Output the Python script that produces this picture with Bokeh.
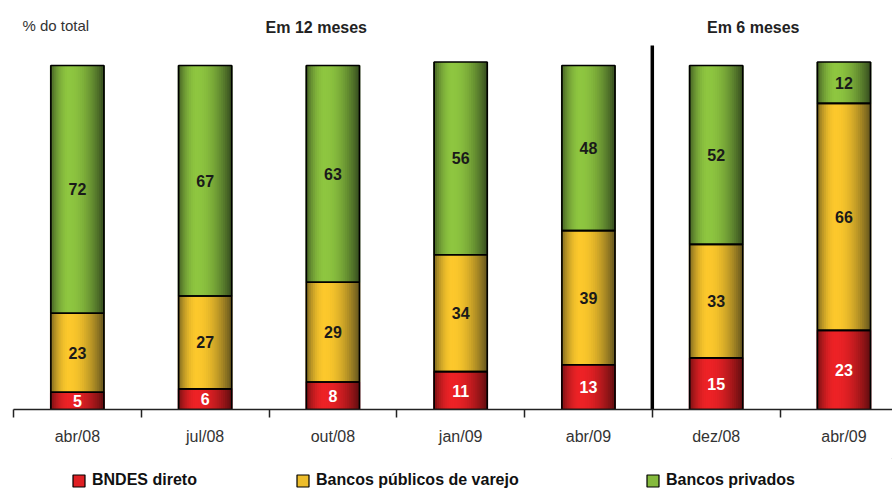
import numpy as np
from bokeh.plotting import figure
from bokeh.layouts import column
from bokeh.models import ColumnDataSource, FixedTicker, Legend, LegendItem, Range1d
from bokeh.core.properties import value
from bokeh.embed import file_html
from bokeh.resources import INLINE

# Share of credit by source (% of total)
periods = ["abr/08", "jul/08", "out/08", "jan/09", "abr/09", "dez/08", "abr/09"]
bndes = [5, 6, 8, 11, 13, 15, 23]
publicos = [23, 27, 29, 34, 39, 33, 66]
privados = [72, 67, 63, 56, 48, 52, 12]
series_names = ["BNDES direto", "Bancos públicos de varejo", "Bancos privados"]
group_titles = ["Em 12 meses", "Em 6 meses"]
unit_label = "% do total"

FONT = "Liberation Sans"
BAR_W = 0.415
N_STRIPS = 28

# (light, dark) colour pairs for the cylinder-like shading
palette = [
    ((237, 34, 38), (100, 14, 16)),     # red
    ((252, 200, 44), (104, 88, 30)),    # yellow
    ((142, 198, 64), (56, 80, 32)),     # green
]
label_colors = ["white", "#1a1a1a", "#1a1a1a"]


def shade(t):
    """Brightness profile across a bar: dark edges, highlight left of centre."""
    peak = 0.36
    if t < peak:
        return np.sin(0.5 * np.pi * t / peak) ** 0.8
    return np.cos(0.5 * np.pi * (t - peak) / (1 - peak)) ** 0.9


def mix(light, dark, f):
    c = [int(round(d + (l - d) * f)) for l, d in zip(light, dark)]
    return "#%02x%02x%02x" % tuple(c)


x_idx = np.arange(len(periods), dtype=float)
layers = [np.array(bndes, float), np.array(publicos, float), np.array(privados, float)]
bottoms = [np.zeros(len(periods))]
for arr in layers[:-1]:
    bottoms.append(bottoms[-1] + arr)
tops = [b + a for b, a in zip(bottoms, layers)]

p = figure(
    width=892, height=458, output_backend="svg", toolbar_location=None,
    x_range=Range1d(-0.5, 6.38), y_range=Range1d(0, 118.9),
    min_border_left=13, min_border_right=0, min_border_top=0, min_border_bottom=49,
    y_axis_location=None,
)
p.outline_line_color = None
p.xgrid.visible = False
p.ygrid.visible = False
p.background_fill_color = "white"
p.border_fill_color = "white"

# shaded strips for every segment (overlapping so no seams show)
strip_w = BAR_W / N_STRIPS
xs, bots, tps, cols = [], [], [], []
for k in range(3):
    light, dark = palette[k]
    for s in range(N_STRIPS):
        t = (s + 0.5) / N_STRIPS
        col = mix(light, dark, shade(t))
        off = -BAR_W / 2 + (s + 0.5) * strip_w
        for i in range(len(periods)):
            xs.append(x_idx[i] + off)
            bots.append(bottoms[k][i])
            tps.append(tops[k][i])
            cols.append(col)
strip_src = ColumnDataSource(dict(x=xs, bottom=bots, top=tps, color=cols))
p.vbar(x="x", bottom="bottom", top="top", width=strip_w * 2.0, source=strip_src,
       fill_color="color", line_color=None)

# segment outlines
for k in range(3):
    src = ColumnDataSource(dict(x=x_idx, bottom=bottoms[k], top=tops[k]))
    p.vbar(x="x", bottom="bottom", top="top", width=BAR_W, source=src,
           fill_color=None, line_color="black", line_width=1.6)

# value labels
for k in range(3):
    src = ColumnDataSource(dict(
        x=x_idx, y=(bottoms[k] + tops[k]) / 2,
        txt=[str(int(v)) for v in layers[k]]))
    p.text(x="x", y="y", text="txt", source=src, text_align="center",
           text_baseline="middle", text_font=value(FONT), text_font_style="bold",
           text_font_size="16px", text_color=label_colors[k])

# separator between the 12-month and 6-month groups
p.segment(x0=[4.5], y0=[105.8], x1=[4.5], y1=[0], line_color="black", line_width=3.5)

# headings
p.text(x=[-0.43], y=[111.6], text=[unit_label], text_align="left", text_baseline="middle",
       text_font=value(FONT), text_font_size="15px", text_color="#333333")
p.text(x=[1.87, 5.29], y=[111.0, 111.0], text=group_titles, text_align="center",
       text_baseline="middle", text_font=value(FONT), text_font_style="bold",
       text_font_size="16px", text_color="#222222")

# x axis: labels at bar centres, ticks on group boundaries
ax = p.xaxis[0]
ax.ticker = FixedTicker(ticks=list(x_idx), minor_ticks=list(np.arange(-0.5, 7.0, 1.0)))
ax.major_label_overrides = {float(i): lab for i, lab in enumerate(periods)}
ax.major_tick_line_color = None
ax.major_tick_out = 0
ax.major_tick_in = 0
ax.minor_tick_line_color = "#222222"
ax.minor_tick_line_width = 1.5
ax.minor_tick_out = 8
ax.minor_tick_in = 0
ax.axis_line_color = "#222222"
ax.axis_line_width = 1.5
ax.major_label_standoff = 10
ax.major_label_text_font = FONT
ax.major_label_text_font_size = "16px"
ax.major_label_text_color = "#333333"

# legend strip underneath the chart: one entry per series, each placed on its own
leg = figure(
    width=892, height=33, output_backend="svg", toolbar_location=None,
    x_range=Range1d(0, 1), y_range=Range1d(0, 1),
    x_axis_location=None, y_axis_location=None, min_border=0,
)
leg.outline_line_color = None
leg.xgrid.visible = False
leg.ygrid.visible = False
entry_x = [58, 282, 632]
for k in range(3):
    # swatch renderer sits outside the visible range; only its legend icon shows
    r = leg.vbar(x=[5.0], bottom=[5.0], top=[6.0], width=0.1,
                 fill_color=mix(*palette[k], 0.9), line_color="black", line_width=1.2)
    legend = Legend(items=[LegendItem(label=series_names[k], renderers=[r])],
                    location=(entry_x[k], 2), glyph_width=15, glyph_height=15,
                    label_standoff=6, padding=0, margin=0, border_line_alpha=0,
                    background_fill_alpha=0, label_text_font=FONT,
                    label_text_font_style="bold", label_text_font_size="16px",
                    label_text_color="#111111")
    leg.add_layout(legend)

open("out.html", "w").write(file_html(column(p, leg, spacing=0), INLINE))
